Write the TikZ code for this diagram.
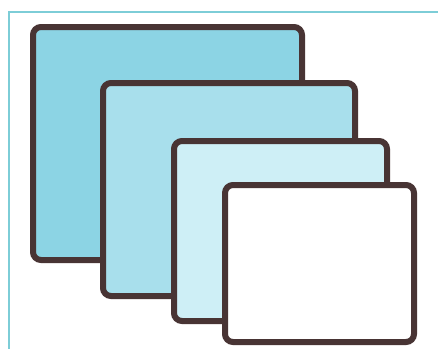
\documentclass[tikz,border=0pt]{standalone}
\begin{document}
\begin{tikzpicture}[x=1pt,y=-1pt,
  screen/.style={draw=outline, line width=6pt, rounded corners=8pt},
  frameline/.style={draw=framecol, line width=2pt}]
\definecolor{outline}{RGB}{72,52,52}
\definecolor{framecol}{RGB}{125,205,215}
\definecolor{fillA}{RGB}{140,212,228}
\definecolor{fillB}{RGB}{168,223,236}
\definecolor{fillC}{RGB}{206,239,246}
\useasboundingbox (0,0) rectangle (438,348);
\clip (0,0) rectangle (438,348);
\fill[white] (0,0) rectangle (438,348);
\draw[frameline] (9,12) rectangle (460,370);
\filldraw[screen, fill=fillA] (33,27) rectangle (302,260);
\filldraw[screen, fill=fillB] (103,83) rectangle (355,296);
\filldraw[screen, fill=fillC] (174,141) rectangle (387,321);
\filldraw[screen, fill=white] (225,185) rectangle (414,342);
\end{tikzpicture}
\end{document}
